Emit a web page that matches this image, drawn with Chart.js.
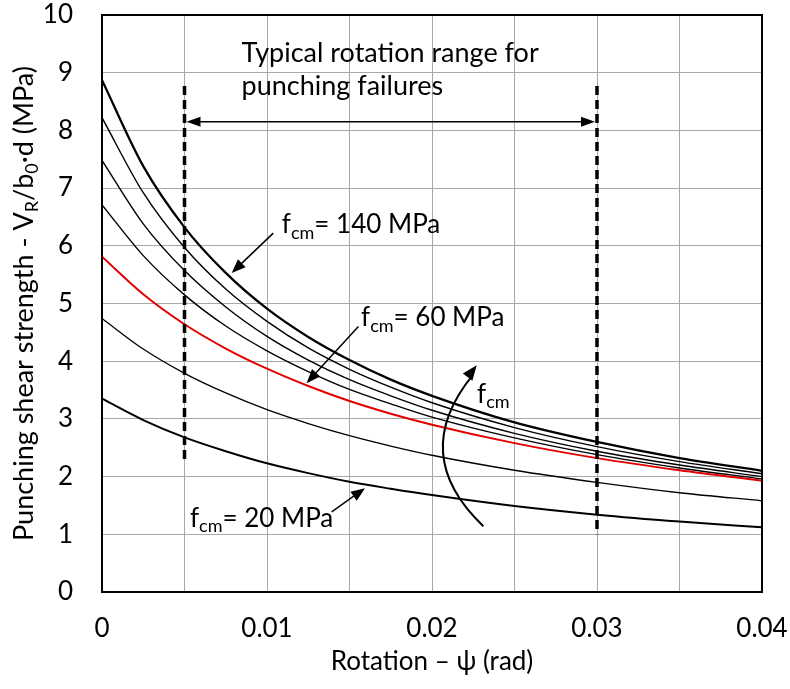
<!DOCTYPE html>
<html>
<head>
<meta charset="utf-8">
<script src="https://cdn.jsdelivr.net/npm/chart.js@4"></script>
<style>
  html, body { margin: 0; padding: 0; background: #fff; }
</style>
</head>
<body>
<canvas id="myChart" width="790" height="689"></canvas>
<script>
const ctx = document.getElementById("myChart").getContext("2d");

// rotation psi (rad) where the curves were read
const rotation = [0, 0.0025, 0.005, 0.0075, 0.01, 0.0125, 0.015, 0.0175, 0.02, 0.025, 0.03, 0.035, 0.04];

// punching shear strength (MPa) per concrete strength
const fcm140 = [8.87, 7.38, 6.32, 5.53, 4.91, 4.42, 4.02, 3.68, 3.40, 2.94, 2.60, 2.32, 2.10];
const fcm120 = [8.22, 6.92, 5.97, 5.25, 4.69, 4.23, 3.86, 3.55, 3.28, 2.85, 2.52, 2.26, 2.05];
const fcm100 = [7.48, 6.38, 5.57, 4.94, 4.43, 4.02, 3.68, 3.40, 3.15, 2.75, 2.44, 2.20, 2.00];
const fcm80  = [6.71, 5.83, 5.15, 4.61, 4.18, 3.82, 3.51, 3.26, 3.03, 2.67, 2.38, 2.15, 1.96];
const fcm60  = [5.81, 5.16, 4.64, 4.22, 3.87, 3.57, 3.31, 3.09, 2.90, 2.58, 2.32, 2.11, 1.93];
const fcm40  = [4.74, 4.21, 3.79, 3.45, 3.16, 2.92, 2.71, 2.53, 2.37, 2.11, 1.90, 1.72, 1.58];
const fcm20  = [3.35, 2.98, 2.68, 2.44, 2.23, 2.06, 1.91, 1.79, 1.68, 1.49, 1.34, 1.22, 1.12];

// typical rotation range (dashed limits)
const rangeX = [0.005, 0.03];
const rangeTop = [8.77, 8.77];
const rangeBottom = [2.3, 1.0];
const rangeArrowY = 8.15;

const pts = (vals) => vals.map((v, i) => ({ x: rotation[i], y: v }));

function curve(vals, color, width, order) {
  return {
    data: pts(vals),
    borderColor: color,
    borderWidth: width,
    pointRadius: 0,
    cubicInterpolationMode: 'monotone',
    fill: false,
    order: order
  };
}

function limit(i) {
  return {
    data: [{ x: rangeX[i], y: rangeTop[i] }, { x: rangeX[i], y: rangeBottom[i] }],
    borderColor: '#000',
    borderWidth: 3.5,
    borderDash: [9, 5],
    pointRadius: 0,
    fill: false,
    order: 0
  };
}

// little helpers for the annotations
function arrowHead(c, x1, y1, x2, y2, len, w) {
  const a = Math.atan2(y2 - y1, x2 - x1);
  c.beginPath();
  c.moveTo(x2, y2);
  c.lineTo(x2 - len * Math.cos(a) + w * Math.sin(a), y2 - len * Math.sin(a) - w * Math.cos(a));
  c.lineTo(x2 - len * Math.cos(a) - w * Math.sin(a), y2 - len * Math.sin(a) + w * Math.cos(a));
  c.closePath();
  c.fill();
}

function fcmText(c, x, y, rest) {
  c.textBaseline = 'middle';
  c.textAlign = 'left';
  c.font = '26px Lato';
  c.fillText('f', x, y);
  let w = c.measureText('f').width;
  c.font = '18px Lato';
  c.fillText('cm', x + w, y + 8);
  w += c.measureText('cm').width;
  c.font = '26px Lato';
  c.fillText(rest, x + w, y);
}

const notes = [
  { text: '= 140 MPa', x: 0.0109, y: 6.36, from: [0.01038, 6.22], to: [0.00786, 5.53] },
  { text: '= 60 MPa', x: 0.0157, y: 4.75, from: [0.01554, 4.60], to: [0.0124, 3.62] },
  { text: '= 20 MPa', x: 0.00533, y: 1.28, from: [0.01392, 1.39], to: [0.01594, 1.80] }
];

const annotate = {
  id: 'annotate',
  afterDatasetsDraw(chart) {
    const c = chart.ctx;
    const a = chart.chartArea;
    const sx = chart.scales.x, sy = chart.scales.y;
    const px = v => sx.getPixelForValue(v);
    const py = v => sy.getPixelForValue(v);
    c.save();
    c.fillStyle = '#000';
    c.strokeStyle = '#000';

    // plot frame
    c.lineWidth = 2;
    c.strokeRect(a.left, a.top, a.right - a.left, a.bottom - a.top);

    // range double arrow
    const ay = py(rangeArrowY);
    const x1 = px(rangeX[0]) + 2, x2 = px(rangeX[1]) - 2;
    c.lineWidth = 1.3;
    c.beginPath();
    c.moveTo(x1 + 8, ay);
    c.lineTo(x2 - 8, ay);
    c.stroke();
    arrowHead(c, x2, ay, x1, ay, 14, 5);
    arrowHead(c, x1, ay, x2, ay, 14, 5);

    c.font = '27px Lato';
    c.textBaseline = 'middle';
    c.textAlign = 'left';
    c.fillText('Typical rotation range for', px(0.00846), py(9.33));
    c.fillText('punching failures', px(0.00846), py(8.76));

    // labelled arrows
    notes.forEach(n => {
      fcmText(c, px(n.x), py(n.y), n.text);
      const fx = px(n.from[0]), fy = py(n.from[1]);
      const tx = px(n.to[0]), ty = py(n.to[1]);
      c.lineWidth = 1.5;
      c.beginPath();
      c.moveTo(fx, fy);
      c.lineTo(tx + (fx - tx) * 0.12, ty + (fy - ty) * 0.12);
      c.stroke();
      arrowHead(c, fx, fy, tx, ty, 14, 5.5);
    });

    // curved arrow showing increasing fcm
    const p0 = [px(0.02311), py(1.14)];
    const cp = [px(0.01855), py(2.38)];
    const p2 = [px(0.02271), py(3.93)];
    c.lineWidth = 2;
    c.beginPath();
    c.moveTo(p0[0], p0[1]);
    c.quadraticCurveTo(cp[0], cp[1], p2[0] - 4, p2[1] + 10);
    c.stroke();
    arrowHead(c, cp[0], cp[1], p2[0], p2[1], 15, 6);
    fcmText(c, px(0.02273), py(3.42), '');

    c.restore();
  },
  afterDraw(chart) {
    // y axis title with subscripts
    const c = chart.ctx;
    const a = chart.chartArea;
    const parts = [
      ['Punching shear strength - V', 27, 0], ['R', 18, 8], ['/b', 27, 0],
      ['0', 18, 8], ['\u00b7d (MPa)', 27, 0]
    ];
    c.save();
    let total = 0;
    parts.forEach(p => { c.font = p[1] + 'px Lato'; total += c.measureText(p[0]).width; });
    c.translate(24, (a.top + a.bottom) / 2);
    c.rotate(-Math.PI / 2);
    c.fillStyle = '#000';
    c.textBaseline = 'middle';
    c.textAlign = 'left';
    let x = -total / 2;
    parts.forEach(p => {
      c.font = p[1] + 'px Lato';
      c.fillText(p[0], x, p[2]);
      x += c.measureText(p[0]).width;
    });
    c.restore();
  }
};

const tickFont = { family: 'Lato', size: 26 };

const config = {
  type: 'line',
  data: {
    datasets: [
      limit(0),
      limit(1),
      curve(fcm60, 'rgb(228,0,0)', 2, 1),
      curve(fcm140, '#000', 2.3, 2),
      curve(fcm120, '#000', 1.4, 2),
      curve(fcm100, '#000', 1.4, 2),
      curve(fcm80, '#000', 1.4, 2),
      curve(fcm40, '#000', 1.3, 2),
      curve(fcm20, '#000', 2, 2)
    ]
  },
  options: {
    responsive: false,
    animation: false,
    devicePixelRatio: 1,
    layout: { padding: { top: 15, right: 28, left: 0, bottom: 0 } },
    plugins: {
      legend: { display: false },
      tooltip: { enabled: false }
    },
    scales: {
      x: {
        type: 'linear',
        min: 0,
        max: 0.04,
        afterFit: (s) => {
          s.height = 97;
          s.paddingLeft = 0;
          s.paddingRight = 0;
        },
        ticks: {
          stepSize: 0.005,
          autoSkip: false,
          maxRotation: 0,
          color: '#000',
          font: tickFont,
          padding: 21,
          callback: function (value) {
            const m = Math.round(value * 1000);
            if (m % 10 !== 0) return '';
            return m === 0 ? '0' : (m / 1000).toFixed(2);
          }
        },
        grid: { color: '#a8a8a8', lineWidth: 1, drawTicks: false },
        border: { color: '#000', width: 2 },
        title: {
          display: true,
          text: 'Rotation \u2013 \u03c8 (rad)',
          color: '#000',
          font: { family: 'Lato', size: 26 },
          padding: { top: 0, bottom: 12 }
        }
      },
      y: {
        min: 0,
        max: 10,
        afterFit: (s) => {
          s.width = 102;
          s.paddingTop = 0;
          s.paddingBottom = 0;
        },
        ticks: {
          stepSize: 1,
          color: '#000',
          font: tickFont,
          padding: 29
        },
        grid: { color: '#a8a8a8', lineWidth: 1, drawTicks: false },
        border: { color: '#000', width: 2 }
      }
    }
  },
  plugins: [annotate]
};

const myChart = new Chart(ctx, config);
</script>
</body>
</html>
